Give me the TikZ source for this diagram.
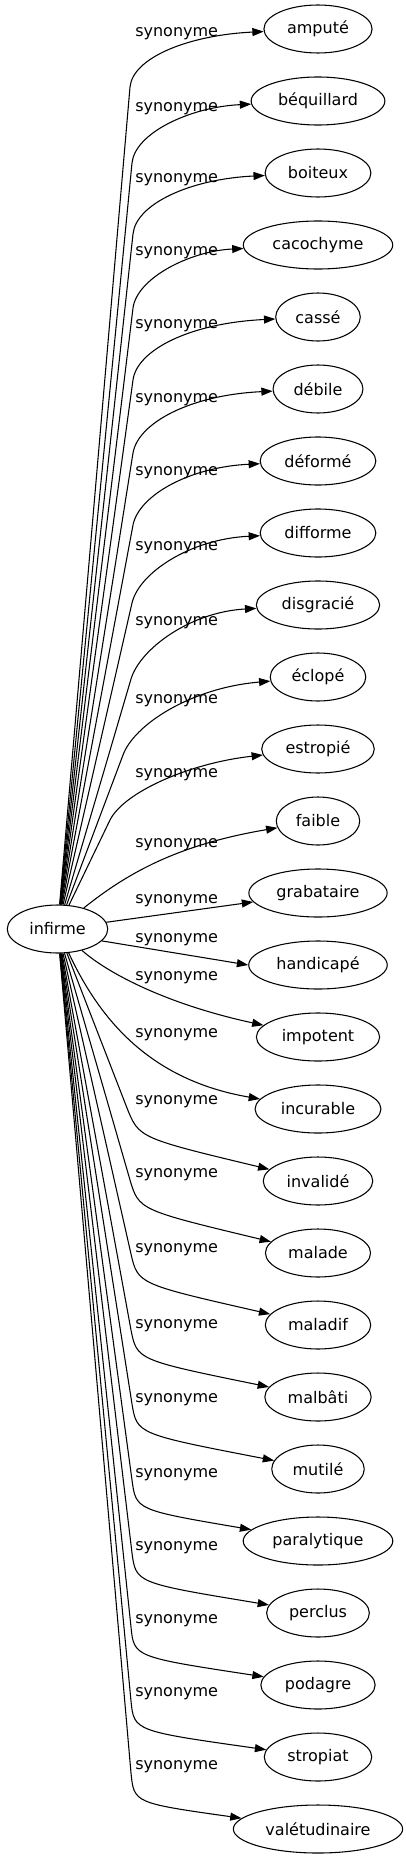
\documentclass[tikz,border=0pt]{standalone}
\usepackage{fontspec}
\setmainfont{DejaVu Sans}
\usetikzlibrary{arrows.meta,shapes.geometric}
\begin{document}
\begin{tikzpicture}[x=0.75pt, y=-0.75pt,
                    every node/.style={font=\fontsize{12}{14}\selectfont},
                    word/.style={draw, line width=0.8pt, ellipse, inner xsep=5.5pt, inner ysep=0pt, minimum height=36pt, minimum width=54pt},
                    rel/.style={anchor=base west, inner sep=0pt},
                    syn/.style={line width=0.8pt, -{Triangle[length=8.5pt, width=6pt]}}]
                    \useasboundingbox (0,0) rectangle (406,1859);

                    \node[word] (infirme) at (57.5,929) {infirme};

                    \node[word] (amp) at (318,29) {amputé};
                    \node[word] (beq) at (318,101) {béquillard};
                    \node[word] (boit) at (318,173) {boiteux};
                    \node[word] (caco) at (318,245) {cacochyme};
                    \node[word] (casse) at (318,317) {cassé};
                    \node[word] (debile) at (318,389) {débile};
                    \node[word] (deforme) at (318,461) {déformé};
                    \node[word] (difforme) at (318,533) {difforme};
                    \node[word] (disgr) at (318,605) {disgracié};
                    \node[word] (eclope) at (318,677) {éclopé};
                    \node[word] (estr) at (318,749) {estropié};
                    \node[word] (faible) at (318,821) {faible};
                    \node[word] (grab) at (318,893) {grabataire};
                    \node[word] (handi) at (318,965) {handicapé};
                    \node[word] (impo) at (318,1037) {impotent};
                    \node[word] (incur) at (318,1109) {incurable};
                    \node[word] (inval) at (318,1181) {invalidé};
                    \node[word] (malade) at (318,1253) {malade};
                    \node[word] (maladif) at (318,1325) {maladif};
                    \node[word] (malbati) at (318,1397) {malbâti};
                    \node[word] (mutile) at (318,1469) {mutilé};
                    \node[word] (paral) at (318,1541) {paralytique};
                    \node[word] (perclus) at (318,1613) {perclus};
                    \node[word] (podagre) at (318,1685) {podagre};
                    \node[word] (strop) at (318,1757) {stropiat};
                    \node[word] (valet) at (318,1829) {valétudinaire};

                    % labels
                    \node[rel] (l0) at (135,37) {synonyme};
                    \node[rel] (l1) at (135,111) {synonyme};
                    \node[rel] (l2) at (135,182) {synonyme};
                    \node[rel] (l3) at (135,255) {synonyme};
                    \node[rel] (l4) at (135,328) {synonyme};
                    \node[rel] (l5) at (135,402) {synonyme};
                    \node[rel] (l6) at (135,475) {synonyme};
                    \node[rel] (l7) at (135,550) {synonyme};
                    \node[rel] (l8) at (135,625) {synonyme};
                    \node[rel] (l9) at (135,703) {synonyme};
                    \node[rel] (l10) at (135,777) {synonyme};
                    \node[rel] (l11) at (135,847) {synonyme};
                    \node[rel] (l12) at (135,903) {synonyme};
                    \node[rel] (l13) at (135,942) {synonyme};
                    \node[rel] (l14) at (135,980) {synonyme};
                    \node[rel] (l15) at (135,1037) {synonyme};
                    \node[rel] (l16) at (135,1104) {synonyme};
                    \node[rel] (l17) at (135,1177) {synonyme};
                    \node[rel] (l18) at (135,1252) {synonyme};
                    \node[rel] (l19) at (135,1328) {synonyme};
                    \node[rel] (l20) at (135,1402) {synonyme};
                    \node[rel] (l21) at (135,1477) {synonyme};
                    \node[rel] (l22) at (135,1550) {synonyme};
                    \node[rel] (l23) at (135,1623) {synonyme};
                    \node[rel] (l24) at (135,1696) {synonyme};
                    \node[rel] (l25) at (135,1769) {synonyme};

                    % edges going up
                    \draw[syn] (infirme) -- (130,87) .. controls (133,57) and (190,35) .. (amp);
                    \draw[syn] (infirme) -- (132,163) .. controls (135,133) and (190,107) .. (beq);
                    \draw[syn] (infirme) -- (133,234) .. controls (136,204) and (190,179) .. (boit);
                    \draw[syn] (infirme) -- (133,308) .. controls (137,278) and (190,251) .. (caco);
                    \draw[syn] (infirme) -- (133,380) .. controls (137,350) and (190,323) .. (casse);
                    \draw[syn] (infirme) -- (133,453) .. controls (138,423) and (190,395) .. (debile);
                    \draw[syn] (infirme) -- (133,525) .. controls (139,495) and (190,467) .. (deforme);
                    \draw[syn] (infirme) -- (132,603) .. controls (139,573) and (190,539) .. (difforme);
                    \draw[syn] (infirme) -- (131,679) .. controls (140,649) and (190,612) .. (disgr);
                    \draw[syn] (infirme) -- (123,755) .. controls (134,725) and (190,688) .. (eclope);
                    \draw[syn] (infirme) -- (110,820) .. controls (124,792) and (190,763) .. (estr);
                    \draw[syn] (infirme) .. controls (125,875) and (175,845) .. (faible);
                    \draw[syn] (infirme) -- (grab);
                    \draw[syn] (infirme.-15) -- (handi.west);
                    % edges going down
                    \draw[syn] (infirme) .. controls (110,975) and (170,1005) .. (impo);
                    \draw[syn] (infirme) .. controls (100,1020) and (150,1080) .. (incur);
                    \draw[syn] (infirme) -- (127,1108) .. controls (139,1138) .. (inval);
                    \draw[syn] (infirme) -- (130,1180) .. controls (139,1210) .. (malade);
                    \draw[syn] (infirme) -- (131,1254) .. controls (138,1284) .. (maladif);
                    \draw[syn] (infirme) -- (131,1330) .. controls (137,1360) .. (malbati);
                    \draw[syn] (infirme) -- (132,1404) .. controls (137,1434) .. (mutile);
                    \draw[syn] (infirme) -- (132,1480) .. controls (136,1510) .. (paral);
                    \draw[syn] (infirme) -- (132,1553) .. controls (136,1583) .. (perclus);
                    \draw[syn] (infirme) -- (131,1627) .. controls (134,1657) .. (podagre);
                    \draw[syn] (infirme) -- (131,1701) .. controls (134,1731) .. (strop);
                    \draw[syn] (infirme) -- (131,1773) .. controls (134,1803) .. (valet);
\end{tikzpicture}
\end{document}
